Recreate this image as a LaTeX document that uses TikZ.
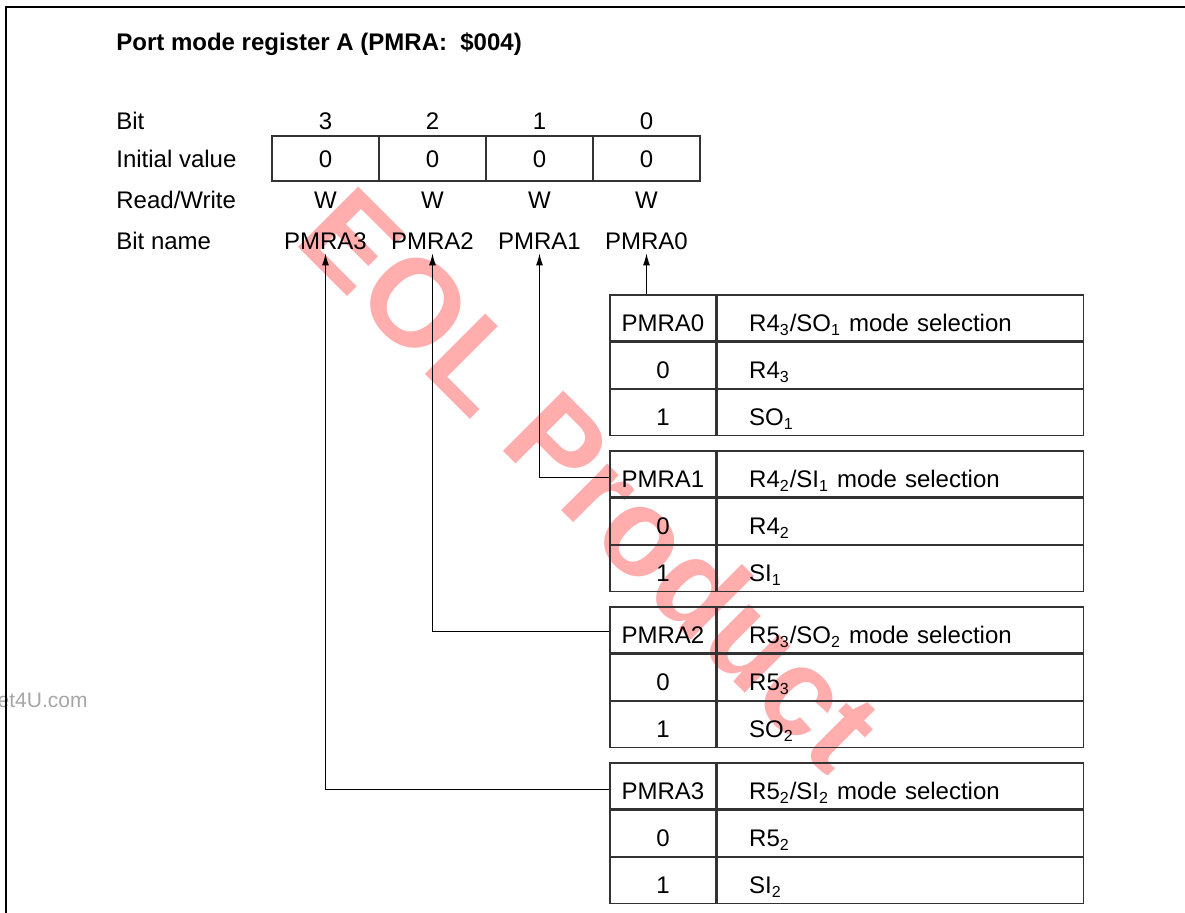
\documentclass[tikz,border=0pt]{standalone}
\usepackage{fontspec}
\setmainfont{Liberation Sans}
\usetikzlibrary{arrows.meta}
\begin{document}
\begin{tikzpicture}[x=0.5pt,y=-0.5pt,font=\fontsize{12}{14}\selectfont]
\tikzset{
 frameline/.style={line width=0.75pt},
 lbl/.style={anchor=west, inner sep=0pt, text height=8.6pt, text depth=0pt},
 ctr/.style={inner sep=0pt, text height=8.6pt, text depth=0pt},
 regcell/.style={draw=black!80, line width=0.6pt, minimum width=53.5pt, minimum height=22.5pt, inner sep=0pt, text height=8.6pt, text depth=0pt},
 bitname/.style={inner xsep=0pt, inner ysep=2pt, text height=8.6pt, text depth=0pt},
 keycell/.style={draw=black!80, line width=0.6pt, minimum width=53pt, minimum height=23pt, inner sep=0pt, text height=14pt, text depth=0.4pt},
 desccell/.style={draw=black!80, line width=0.6pt, text width=151pt, inner xsep=16pt, inner ysep=0pt, minimum height=23pt, align=left, text height=14pt, text depth=0.4pt},
 conn/.style={line width=0.5pt, -{Latex[length=6pt,width=3.5pt]}},
 wmark/.style={text=red!32, rotate=-45, inner sep=0pt, font=\fontsize{62}{62}\selectfont\bfseries},
 faint/.style={text=black!35, inner sep=0pt, font=\fontsize{10.5}{12}\selectfont}
}
\clip (0,0) rectangle (1185,913);
\fill[white] (0,0) rectangle (1185,913);
% watermark
\node[wmark] (wm) at (592,478) {EOL Product};
\node[faint, anchor=east] (site) at (88,700) {et4U.com};
% frame
\coordinate (fbl) at (6,913);
\coordinate (ftl) at (6,7);
\coordinate (ftr) at (1185,7);
\draw[frameline] (fbl) -- (ftl) -- (ftr);
% title
\node[lbl, font=\fontsize{12}{14}\selectfont\bfseries] (title) at (116,42) {Port mode register A (PMRA:\ \ \$004)};
% row labels
\node[lbl] (lbit) at (116,121) {Bit};
\node[lbl] (linit) at (116,159) {Initial value};
\node[lbl] (lrw) at (116,200) {Read/Write};
\node[lbl] (lname) at (116,240.5) {Bit name};
% register
\foreach \b/\x in {3/325.5,2/432.5,1/539.5,0/646.5}{
  \node[ctr] (bit\b) at (\x,121) {\b};
  \node[regcell] (v\b) at (\x,158.5) {0};
  \node[ctr] (w\b) at (\x,200) {W};
  \node[bitname] (n\b) at (\x,240.5) {PMRA\b};
}
% tables
\newcommand\modetable[5]{%
  \node[keycell] (k#1) at (663,#2+23) {PMRA#1};
  \node[desccell, anchor=west] (d#1) at (k#1.east) {#3};
  \node[keycell, anchor=north] (a#1) at (k#1.south) {0};
  \node[desccell, anchor=west] (b#1) at (a#1.east) {#4};
  \node[keycell, anchor=north] (c#1) at (a#1.south) {1};
  \node[desccell, anchor=west] (e#1) at (c#1.east) {#5};
}
\modetable{0}{295}{R4\textsubscript{3}/SO\textsubscript{1} mode selection}{R4\textsubscript{3}}{SO\textsubscript{1}}
\modetable{1}{451}{R4\textsubscript{2}/SI\textsubscript{1} mode selection}{R4\textsubscript{2}}{SI\textsubscript{1}}
\modetable{2}{607}{R5\textsubscript{3}/SO\textsubscript{2} mode selection}{R5\textsubscript{3}}{SO\textsubscript{2}}
\modetable{3}{763}{R5\textsubscript{2}/SI\textsubscript{2} mode selection}{R5\textsubscript{2}}{SI\textsubscript{2}}
% connectors
\draw[conn] (k0.north -| n0.south) -- (n0.south);
\draw[conn] ([yshift=-2pt]k1.west) -| (n1.south);
\draw[conn] ([yshift=-1pt]k2.west) -| (n2.south);
\draw[conn] ([yshift=-2pt]k3.west) -| (n3.south);
\end{tikzpicture}
\end{document}
